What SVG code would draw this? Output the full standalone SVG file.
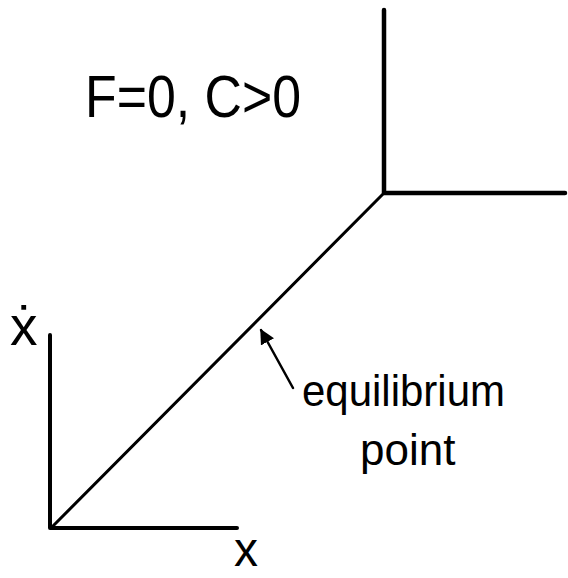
<svg xmlns="http://www.w3.org/2000/svg" width="568" height="578" viewBox="0 0 568 578">
<style>
.ln{stroke:#000;fill:none;stroke-linecap:round;stroke-linejoin:round}
.t{font-family:"Liberation Sans","DejaVu Sans",sans-serif;fill:#000}
</style>
<defs>
<marker id="ah" viewBox="0 0 10 10" refX="9" refY="5" markerWidth="6" markerHeight="6" orient="auto" markerUnits="strokeWidth">
<path d="M0,0 L10,5 L0,10 Z" fill="#000"/>
</marker>
</defs>
<rect width="568" height="578" fill="#fff"/>
<g id="title"><text class="t" x="85" y="117" font-size="60" textLength="216" lengthAdjust="spacingAndGlyphs">F=0, C&gt;0</text></g>
<g id="axes">
<path class="ln" stroke-width="4" d="M50,335 L50,528 L237,528"/>
<text class="t" x="10" y="345" font-size="55">ẋ</text>
<text class="t" x="234" y="566" font-size="48">x</text>
</g>
<g id="connectors">
<path class="ln" stroke-width="3" d="M51,528 L384,193"/>
<path class="ln" stroke-width="4.5" d="M384,10 L384,193 L565,193"/>
<path class="ln" stroke-width="2.5" d="M293,388 L261,330" marker-end="url(#ah)"/>
</g>
<g id="equilibrium-label">
<text class="t" x="302" y="406" font-size="44" textLength="203" lengthAdjust="spacingAndGlyphs">equilibrium</text>
<text class="t" x="360" y="465" font-size="44">point</text>
</g>
</svg>
